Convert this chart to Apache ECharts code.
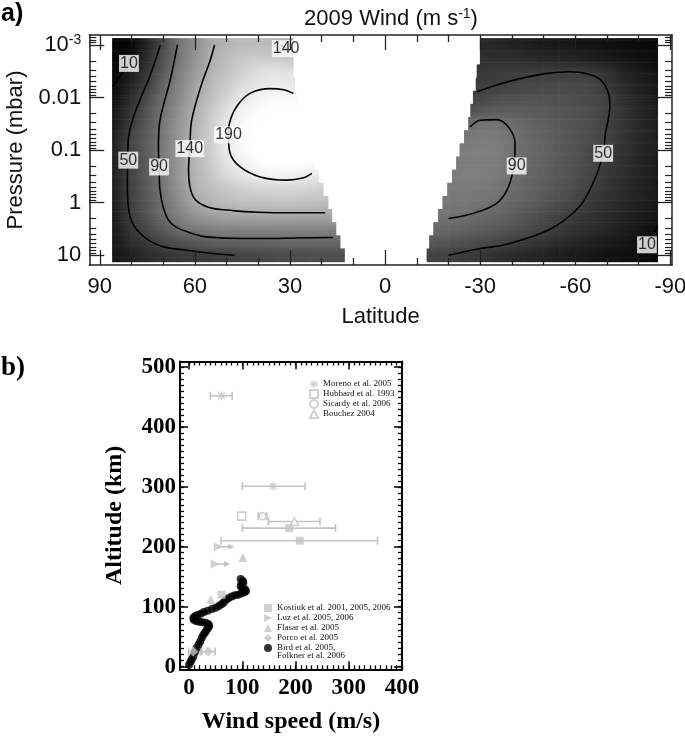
<!DOCTYPE html>
<html><head><meta charset="utf-8">
<script src="https://cdn.jsdelivr.net/npm/echarts@6/dist/echarts.min.js"></script>
<style>html,body{margin:0;padding:0;background:#fff}#c{width:685px;height:741px}</style>
</head><body><div id="c"></div>
<script>
// ================= Panel a data =================
const pRows = [-3,-2.75,-2.5,-2.25,-2,-1.75,-1.5,-1.25,-1,-0.75,-0.5,-0.25,0,0.25,0.5,0.75,1]; // log10(p / mbar)
const northLats = [86,80,75,70,65,60,55,50,45,40,35,30,25,20,15,10];
const southLats = [-86,-80,-75,-70,-65,-60,-55,-50,-45,-40,-35,-30,-25,-20,-15,-10];
const northEdge = [29,29,29,28.5,28,27.3,26.3,25.2,24,22.3,21,19.5,18,16.8,15.5,14.2,12.8];
const southEdge = [-30,-30,-29,-28.7,-27.8,-27,-26.3,-25,-23.6,-22.5,-21.2,-19.7,-18.2,-16.8,-15.3,-14,-13.2];
const northWind = [
  [3,6,29,58,93,114,136,145,150,151,148,141,136],
  [4,10,36,65,94,118,140,152,160,163,162,158,154],
  [5,20,43,72,100,123,143,155,167,178,182,180,176],
  [7,28,50,79,105,129,148,162,175,185,189,188,184],
  [11,36,60,87,110,134,153,170,187,196,200,200,198],
  [15,43,67,91,116,141,160,180,196,203,207,207,205],
  [18,49,71,95,119,144,165,186,200,207,211,212,211],
  [22,54,74,97,121,146,167,188,202,209,213,214,213],
  [24,56,75,98,122,146,166,187,201,208,212,213,212,210],
  [24,55,75,97,122,146,164,182,195,203,206,206,203,200],
  [23,54,74,96,121,144,160,174,185,190,194,193,190,185],
  [22,53,73,94,118,142,151,160,166,170,172,172,170,167,164],
  [21,52,70,90,112,134,145,150,154,156,157,157,155,153,150],
  [20,50,68,87,103,118,128,133,135,136,136,136,135,135,134],
  [19,44,58,74,89,98,103,106,107,107,107,107,107,107,106],
  [17,36,47,56,65,72,76,78,80,81,82,82,82,82,82,82],
  [15,26,34,40,44,46,48,50,53,56,58,60,61,62,62,62]
];
const southWind = [
  [7,9,11,13,15,17,19,21,24,27,30,32,33],
  [10,13,16,20,24,27,29,31,33,36,37,38,38],
  [15,21,28,38,45,48,48,48,48,47,46,44,43],
  [18,25,33,45,55,57,57,56,55,53,50,48,47],
  [21,29,38,51,58,61,63,64,64,63,60,55,52],
  [23,31,41,53,61,65,68,71,73,74,72,68,62],
  [24,32,42,52,60,66,71,76,81,87,93,92,85],
  [24,32,42,53,61,67,72,77,83,91,98,99,96,93],
  [23,31,40,48,58,65,71,78,84,92,100,102,100,97],
  [22,30,38,46,57,65,71,78,84,92,100,102,101,98],
  [22,29,36,44,54,63,69,76,82,90,98,101,101,98],
  [21,27,34,41,49,58,66,73,80,87,94,97,98,97,95],
  [20,26,32,38,45,54,62,69,76,83,90,93,95,95,94],
  [18,24,29,34,40,46,53,60,67,74,80,85,89,92,93],
  [10,18,23,30,35,40,46,53,60,66,71,76,79,82,84],
  [6,12,17,21,26,30,35,40,45,50,56,60,64,68,70,70],
  [5,10,12,14,17,20,23,27,30,34,38,43,47,51,53,54]
];
// contour lines [lat, log10 p]
const c10n = [[86,-2.2],[84.6,-2.33],[82.6,-2.5],[80.8,-2.65],[79.5,-2.8]];
const c50n = [[70.9,-3.0],[72.5,-2.7],[74.7,-2.33],[77,-2.0],[79.4,-1.63],[81,-1.2],[81.2,-0.8],[81.3,-0.3],[80.4,0.27],[77.3,0.58],[71,0.82],[63,0.9],[55,0.96],[47.5,1.0]];
const c90n = [[65.5,-3.0],[67.8,-2.33],[71,-1.57],[71.5,-1.06],[71.3,-0.68],[71,-0.24],[68.9,0.27],[66,0.46],[60,0.6],[56.5,0.65],[45,0.68],[38.5,0.68],[28,0.67],[16.4,0.66]];
const c140n = [[53.8,-3.0],[55.2,-2.7],[57.8,-2.27],[61,-1.57],[61.6,-1.03],[62,-0.62],[60.5,-0.11],[56,0.08],[48,0.15],[40,0.18],[30,0.19],[18.9,0.19]];
const c140nTop = [[33,-3.0],[31.2,-2.93],[29.2,-2.88]];
const c190n = [[28.9,-2.08],[32,-2.15],[36.3,-2.17],[42.6,-2.08],[46.8,-1.83],[49.1,-1.51],[49.4,-1.29],[48.9,-0.94],[45.7,-0.68],[39.4,-0.49],[31,-0.43],[26,-0.47],[23.1,-0.56]];
const c50s = [[-28.9,-2.11],[-35.2,-2.24],[-42.6,-2.36],[-50,-2.45],[-58.4,-2.49],[-64,-2.45],[-68.1,-2.33],[-70.6,-2.05],[-70.9,-1.83],[-70.3,-1.55],[-69.5,-1.32],[-68.8,-0.94],[-66,-0.43],[-61.2,0.08],[-51.5,0.52],[-37.7,0.8],[-30,0.87],[-20,1.0]];
const c90s = [[-26.8,-1.44],[-30,-1.57],[-35.2,-1.58],[-38.9,-1.44],[-41,-1.13],[-40.8,-0.8],[-38.9,-0.3],[-35.2,0.01],[-27.9,0.2],[-20,0.3]];
const c10s = [[-86,0.45],[-84,0.68],[-82.6,0.8],[-81,0.92],[-80,1.0]];
const contourLabels = [[80.8,-2.65,'10'],[81,-0.81,'50'],[71.3,-0.68,'90'],[61.6,-1.03,'140'],[49.4,-1.29,'190'],[31.2,-2.93,'140'],[-41.5,-0.7,'90'],[-68.8,-0.94,'50'],[-82.6,0.8,'10']];
const latTicks = [90,60,30,0,-30,-60,-90];
const latMinor = [80,70,50,40,20,10,-10,-20,-40,-50,-70,-80];
const pTicks = [-3,-2,-1,0,1];
const pTickText = ['10^-3','0.01','0.1','1','10'];

// ================= Panel b data =================
const moreno = [[61,452],[158,301]];
const morenoErr = [[61,452,40,81],[158,301,100,218]];
const hubbard = [[99,251]];
const sicardy = [[138,251]];
const sicardyErr = [[138,251,130,146]];
const bouchez = [[198,242]];
const bouchezErr = [[198,242,149,246]];
const kostiuk = [[61,120],[188,231],[208,210]];
const kostiukErr = [[188,231,100,275],[208,210,60,354]];
const luz = [[55,200],[49,171]];
const luzArrowEnd = [85,77];
const flasar = [[101,182],[41,112]];
const porco = [[8,25],[36,25]];
const porcoErr = [[8,25,-1,21],[36,25,24,49]];
const bird = [[0,3],[3,8],[5,12],[8,17],[11,24],[14,31],[18,37],[21,42],[24,48],[27,53],[30,57],[33,61],[36,65],[38,68],[36,71],[31,73],[25,74],[19,75],[13,76],[9,78],[8,81],[11,84],[16,86],[22,88],[28,91],[35,93],[43,96],[50,98],[56,101],[61,104],[65,107],[69,111],[74,114],[80,117],[86,119],[92,120],[98,122],[104,124],[107,126],[105,129],[100,131],[97,134],[98,137],[102,140],[101,143],[97,146]];
const speedTicks = [0,100,200,300,400];
const altTicks = [0,100,200,300,400,500];

// ================= helpers =================
const SANS = 'Liberation Sans, Arial, Helvetica, sans-serif';
const SERIF = 'Liberation Serif, Times New Roman, serif';
const GR = '#c4c4c4';
function gray(v){ const g = Math.round(255*Math.max(0,Math.min(1,v/205))); return 'rgb('+g+','+g+','+g+')'; }
function at(row, i, fb){ return (row && row[i] != null) ? row[i] : fb; }
function buildCells(lats, vals, edges){
  const out = [];
  pRows.forEach(function(lp, r){
    const row = vals[r], up = vals[r-1], dn = vals[r+1];
    for (let i = 0; i + 1 < row.length; i++){
      if (Math.abs(lats[i]) <= Math.abs(edges[r])) break;
      out.push([lats[i], lats[i+1], lp, row[i], row[i+1], edges[r],
        at(up,i,row[i]), at(up,i+1,row[i+1]), at(dn,i,row[i]), at(dn,i+1,row[i+1])]);
    }
  });
  return out;
}
const SUB = [-0.1042,-0.0625,-0.0208,0.0208,0.0625,0.1042];
function renderCell(params, api){
  const a = api.value(0), b = api.value(1), lp = api.value(2), va = api.value(3), vb = api.value(4), e = api.value(5);
  const ua = api.value(6), ub = api.value(7), da = api.value(8), db = api.value(9);
  const bb = Math.abs(b) < Math.abs(e) ? e : b;
  const xa = api.coord([a, lp])[0], xb = api.coord([b, lp])[0], xe = api.coord([bb, lp])[0];
  const x = Math.min(xa, xe), w = Math.abs(xe - xa);
  const children = [];
  SUB.forEach(function(d){
    const t = Math.abs(d) / 0.25;
    const na = d < 0 ? ua : da, nb = d < 0 ? ub : db;
    const ca = (1-t)*va + t*na, cb = (1-t)*vb + t*nb;
    const y0 = api.coord([a, lp + d - 0.0209])[1], y1 = api.coord([a, lp + d + 0.0209])[1];
    const y = Math.min(y0, y1), h = Math.abs(y1 - y0);
    children.push({type:'rect', shape:{x:x-0.3, y:y-0.3, width:w+0.6, height:h+0.6},
      style:{fill: new echarts.graphic.LinearGradient(xa,0,xb,0,[{offset:0,color:gray(ca)},{offset:1,color:gray(cb)}], true)}});
  });
  return {type:'group', children:children};
}
function renderErr(params, api){
  const l = api.coord([api.value(2), api.value(1)]);
  const r = api.coord([api.value(3), api.value(1)]);
  const st = {stroke: GR, lineWidth: 1.6};
  return {type:'group', children:[
    {type:'line', shape:{x1:l[0],y1:l[1],x2:r[0],y2:r[1]}, style:st},
    {type:'line', shape:{x1:l[0],y1:l[1]-4,x2:l[0],y2:l[1]+4}, style:st},
    {type:'line', shape:{x1:r[0],y1:r[1]-4,x2:r[0],y2:r[1]+4}, style:st}
  ]};
}
function renderArrow(params, api){
  const s = api.coord([api.value(0), api.value(1)]);
  const e = api.coord([api.value(2), api.value(1)]);
  return {type:'group', children:[
    {type:'line', shape:{x1:s[0],y1:s[1],x2:e[0]-3,y2:e[1]}, style:{stroke:GR, lineWidth:1.6}},
    {type:'polygon', shape:{points:[[e[0],e[1]],[e[0]-6,e[1]-3],[e[0]-6,e[1]+3]]}, style:{fill:GR}}
  ]};
}
function minorLog(){
  const out = [];
  for (let n = -4; n <= 1; n++) for (let k = 2; k <= 9; k++){
    const v = Math.log10(k) + n; if (v > -3.19 && v < 1.184) out.push(v);
  }
  return out;
}
function range(a, b, s){ const o=[]; for (let v=a; v<=b; v+=s) o.push(v); return o; }
function mkAxis(o){
  return {
    type:'value', gridIndex:o.grid, position:o.pos, min:o.min, max:o.max, inverse:!!o.inv, z:10,
    axisLine:{show:!!o.line, onZero:false, lineStyle:{color:o.color, width:o.lw||1}},
    axisTick:{show:true, inside:true, length:o.len, customValues:o.ticks, lineStyle:{color:o.color, width:o.tw}},
    axisLabel: o.label ? Object.assign({show:true, customValues:o.ticks}, o.label) : {show:false},
    splitLine:{show:false}, minorTick:{show:false},
    name:o.name||'', nameLocation:'middle', nameGap:o.nameGap||0, nameTextStyle:o.nameStyle||{}
  };
}

const XA = {min:-90.5, max:93.3, inv:true};
const YA = {min:-3.19, max:1.184, inv:true};
const XB = {min:-17, max:400};
const YB = {min:-4.5, max:509};
const FR = '#222';
const xAxes = [
  mkAxis(Object.assign({grid:0,pos:'bottom',line:true,color:FR,lw:1.5,tw:1.3,len:15,ticks:latTicks,
    label:{fontSize:22,fontFamily:SANS,color:'#111',margin:11},
    name:'Latitude',nameGap:41,nameStyle:{fontSize:22,fontFamily:SANS,color:'#111'}},XA)),
  mkAxis(Object.assign({grid:0,pos:'bottom',color:FR,tw:1.3,len:7,ticks:latMinor},XA)),
  mkAxis(Object.assign({grid:0,pos:'top',line:true,color:FR,lw:1.5,tw:1.3,len:15,ticks:latTicks},XA)),
  mkAxis(Object.assign({grid:0,pos:'top',color:FR,tw:1.3,len:7,ticks:latMinor},XA)),
  mkAxis(Object.assign({grid:1,pos:'bottom',line:true,color:'#000',lw:2,tw:1.5,len:8,ticks:speedTicks,
    label:{fontSize:23,fontFamily:SERIF,fontWeight:'bold',color:'#000',margin:7},
    name:'Wind speed (m/s)',nameGap:40,nameStyle:{fontSize:24,fontFamily:SERIF,fontWeight:'bold',color:'#000'}},XB)),
  mkAxis(Object.assign({grid:1,pos:'bottom',color:'#000',tw:1.3,len:4,ticks:range(0,400,10)},XB)),
  mkAxis(Object.assign({grid:1,pos:'top',line:true,color:'#000',lw:2,tw:1.5,len:8,ticks:speedTicks},XB)),
  mkAxis(Object.assign({grid:1,pos:'top',color:'#000',tw:1.3,len:4,ticks:range(0,400,10)},XB))
];
const yAxes = [
  mkAxis(Object.assign({grid:0,pos:'left',line:true,color:FR,lw:1.5,tw:1.3,len:15,ticks:pTicks,
    label:{margin:8, formatter:function(v){
      const t = pTickText[pTicks.indexOf(Math.round(v))] || '';
      return t.indexOf('10^') === 0 ? '{b|10}{s|' + t.slice(3) + '}' : '{b|' + t + '}';
    }, rich:{b:{fontSize:22,fontFamily:SANS,color:'#111',lineHeight:24}, s:{fontSize:14,fontFamily:SANS,color:'#111',verticalAlign:'top',lineHeight:14}}},
    name:'Pressure (mbar)',nameGap:62,nameStyle:{fontSize:22,fontFamily:SANS,color:'#111'}},YA)),
  mkAxis(Object.assign({grid:0,pos:'left',color:FR,tw:1.2,len:7,ticks:minorLog()},YA)),
  mkAxis(Object.assign({grid:0,pos:'right',line:true,color:FR,lw:1.5,tw:1.3,len:15,ticks:pTicks},YA)),
  mkAxis(Object.assign({grid:0,pos:'right',color:FR,tw:1.2,len:7,ticks:minorLog()},YA)),
  mkAxis(Object.assign({grid:1,pos:'left',line:true,color:'#000',lw:2,tw:1.5,len:8,ticks:altTicks,
    label:{fontSize:23,fontFamily:SERIF,fontWeight:'bold',color:'#000',margin:4},
    name:'Altitude (km)',nameGap:53,nameStyle:{fontSize:24,fontFamily:SERIF,fontWeight:'bold',color:'#000'}},YB)),
  mkAxis(Object.assign({grid:1,pos:'left',color:'#000',tw:1.3,len:4,ticks:range(0,500,10)},YB)),
  mkAxis(Object.assign({grid:1,pos:'right',line:true,color:'#000',lw:2,tw:1.5,len:8,ticks:altTicks},YB)),
  mkAxis(Object.assign({grid:1,pos:'right',color:'#000',tw:1.3,len:4,ticks:range(0,500,10)},YB))
];

function contour(d){
  return {type:'line', xAxisIndex:0, yAxisIndex:0, data:d, smooth:0.35, symbol:'none', silent:true, z:3,
    lineStyle:{color:'#000', width:1.6}};
}
const ASTER = 'path://M-0.8,-5L0.8,-5L0.8,5L-0.8,5Z M-5,-0.8L5,-0.8L5,0.8L-5,0.8Z M2.97,4.1L-4.1,-2.97L-2.97,-4.1L4.1,2.97Z M4.1,-2.97L-2.97,4.1L-4.1,2.97L2.97,-4.1Z';
const RTRI = 'path://M0,0L10,5L0,10Z';
function sc(name, data, symbol, size, style, extra){
  return Object.assign({type:'scatter', name:name, xAxisIndex:4, yAxisIndex:4, data:data, symbol:symbol, symbolSize:size,
    itemStyle:style, z:5, silent:true}, extra||{});
}
const BIRD = 'Bird et al. 2005,';
const legendText = {fontFamily:SERIF, fontSize:9, color:'#111', lineHeight:10};

const option = {
  animation:false,
  backgroundColor:'#fff',
  title:{text:'{t|2009 Wind (m s}{s|-1}{t|)}', left:386, top:2, textAlign:'center',
    textStyle:{fontWeight:'normal', rich:{t:{fontSize:22,fontFamily:SANS,fontWeight:'normal',color:'#111',lineHeight:24}, s:{fontSize:14,fontFamily:SANS,fontWeight:'normal',color:'#111',verticalAlign:'top',lineHeight:14}}}},
  graphic:[
    {type:'text', left:1, top:2, style:{text:'a)', font:'bold 25px '+SANS, fill:'#000'}},
    {type:'text', left:1, top:355, style:{text:'b)', font:'bold 27px '+SERIF, fill:'#000'}},
    {type:'text', left:277, top:651.5, style:{text:'Folkner et al. 2006', font:'9px '+SERIF, fill:'#111'}}
  ],
  grid:[
    {left:89.3, top:35, width:582.7, height:230, outerBoundsMode:'none', containLabel:false},
    {left:180, top:361.5, width:222, height:307.8, outerBoundsMode:'none', containLabel:false}
  ],
  xAxis:xAxes,
  yAxis:yAxes,
  legend:[
    {data:['Moreno et al. 2005','Hubbard et al. 1993','Sicardy et al. 2006','Bouchez 2004'], padding:0,
     orient:'vertical', left:309, top:379, itemWidth:8, itemHeight:8, itemGap:0, selectedMode:false, textStyle:legendText},
    {data:['Kostiuk et al. 2001, 2005, 2006','Luz et al. 2005, 2006','Flasar et al. 2005','Porco et al. 2005', BIRD], padding:0,
     orient:'vertical', left:264, top:603, itemWidth:8, itemHeight:8, itemGap:0, selectedMode:false, textStyle:legendText}
  ],
  series:[
    {type:'custom', xAxisIndex:0, yAxisIndex:0, renderItem:renderCell, data:buildCells(northLats, northWind, northEdge), z:1, silent:true},
    {type:'custom', xAxisIndex:0, yAxisIndex:0, renderItem:renderCell, data:buildCells(southLats, southWind, southEdge), z:1, silent:true},
    contour(c10n), contour(c50n), contour(c90n), contour(c140n), contour(c140nTop), contour(c190n),
    contour(c50s), contour(c90s), contour(c10s),
    {type:'scatter', xAxisIndex:0, yAxisIndex:0, data:contourLabels, symbolSize:1, itemStyle:{color:'rgba(0,0,0,0)'}, z:6, silent:true,
     label:{show:true, position:'inside', formatter:function(p){return p.value[2];}, fontSize:16, fontFamily:SANS, color:'#000',
            backgroundColor:'#fff', padding:[1,1,0,1]}},
    // panel b
    {type:'custom', xAxisIndex:4, yAxisIndex:4, renderItem:renderErr, data:morenoErr.concat(sicardyErr, bouchezErr, kostiukErr, porcoErr), z:2, silent:true},
    {type:'custom', xAxisIndex:4, yAxisIndex:4, renderItem:renderArrow, data:luz.map(function(d,i){return [d[0], d[1], luzArrowEnd[i]];}), z:2, silent:true},
    sc(BIRD, bird, 'circle', 8, {color:'#000'}),
    sc('Moreno et al. 2005', moreno, ASTER, 9, {color:GR}),
    sc('Hubbard et al. 1993', hubbard, 'rect', 8, {color:'#fff', borderColor:GR, borderWidth:1.6}),
    sc('Sicardy et al. 2006', sicardy, 'circle', 7, {color:'#fff', borderColor:GR, borderWidth:1.6}),
    sc('Bouchez 2004', bouchez, 'triangle', 8, {color:'#fff', borderColor:GR, borderWidth:1.4}),
    sc('Kostiuk et al. 2001, 2005, 2006', kostiuk, 'rect', 8, {color:GR}),
    sc('Luz et al. 2005, 2006', luz, RTRI, 9, {color:GR}),
    sc('Flasar et al. 2005', flasar, 'triangle', 9, {color:GR}),
    sc('Porco et al. 2005', porco, 'diamond', 10, {color:GR})
  ]
};
const chart = echarts.init(document.getElementById('c'), null, {renderer:'canvas', width:685, height:741});
chart.setOption(option);
</script>
</body></html>
